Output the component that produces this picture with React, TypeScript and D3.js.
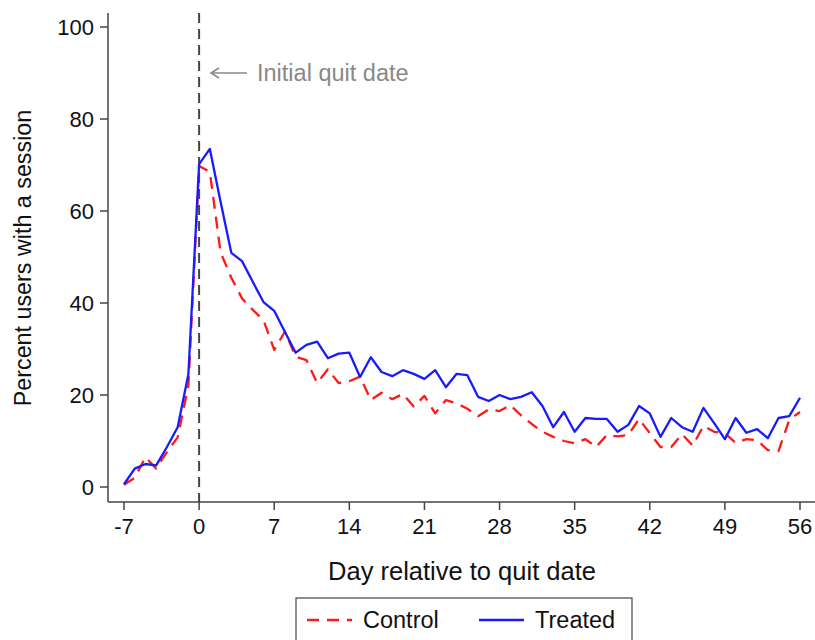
import React from "react";
import * as d3 from "d3";

const days: number[] = d3.range(-7, 57);

const control: number[] = [
  0.5, 2, 6.5, 4, 7.6, 10.8, 22,
  69.8, 68.5, 51, 45.5, 41, 38.5, 36.3, 29.8, 33.8, 28.3, 27.6, 22.6, 25.6, 22.6, 23,
  24, 18.9, 20.5, 19.1, 20.2, 17.5, 19.8, 16, 18.9, 18.2, 17, 15.4, 16.9, 16.5, 17.8,
  15.6, 13.7, 12, 10.9, 10, 9.5, 10.4, 8.7, 11.3, 11, 11.3, 14.8, 11.7, 8.7, 8.7,
  11.5, 9, 13.3, 12, 11.7, 9.6, 10.4, 10.2, 8, 7.8, 14.6, 16.3,
];

const treated: number[] = [
  0.6, 4, 5, 4.7, 8.7, 13, 24.5,
  70.2, 73.5, 62, 50.9, 49.1, 44.6, 40.2, 38.3, 33.7, 29.2, 30.9, 31.6, 28, 29, 29.2,
  23.9, 28.2, 25, 24.1, 25.4, 24.6, 23.5, 25.4, 21.7, 24.6, 24.3, 19.6, 18.7, 20, 19.1,
  19.6, 20.6, 17.6, 13, 16.3, 12, 15, 14.8, 14.8, 12, 13.5, 17.6, 16, 10.9, 15,
  13, 12, 17.2, 13.9, 10.4, 15, 11.8, 12.6, 10.6, 15, 15.4, 19.4,
];

const xTicks: number[] = [-7, 0, 7, 14, 21, 28, 35, 42, 49, 56];
const yTicks: number[] = [0, 20, 40, 60, 80, 100];
const seriesNames: string[] = ["Control", "Treated"];

const FONT = "'Liberation Sans', Arial, Helvetica, sans-serif";

export default function App() {
  const W = 815, H = 640;
  const x = d3.scaleLinear().domain([-7, 56]).range([124, 800]);
  const y = d3.scaleLinear().domain([0, 100]).range([487, 27]);
  const axisY = 502;
  const axisX = 108;

  const line = d3
    .line<number>()
    .x((_, i) => x(days[i]))
    .y((v) => y(v));

  const axisColor = "#444";

  return (
    <svg
      width={W}
      height={H}
      style={{ position: "absolute", left: 0, top: 0, background: "#fff" }}
      fontFamily={FONT}
    >
      <rect x={0} y={0} width={W} height={H} fill="#fff" />
      {/* Y axis */}
      <line x1={axisX} x2={axisX} y1={13} y2={axisY} stroke={axisColor} strokeWidth={1.5} />
      {yTicks.map((t) => (
        <g key={"y" + t}>
          <line x1={axisX - 8} x2={axisX} y1={y(t)} y2={y(t)} stroke={axisColor} strokeWidth={1.5} />
          <text x={axisX - 14} y={y(t)} dy="0.36em" textAnchor="end" fontSize={22} fill="#111">
            {t}
          </text>
        </g>
      ))}
      {/* X axis */}
      <line x1={axisX} x2={815} y1={axisY} y2={axisY} stroke={axisColor} strokeWidth={1.5} />
      {xTicks.map((t) => (
        <g key={"x" + t}>
          <line x1={x(t)} x2={x(t)} y1={axisY} y2={axisY + 8} stroke={axisColor} strokeWidth={1.5} />
          <text x={x(t)} y={534} textAnchor="middle" fontSize={22} fill="#111">
            {t}
          </text>
        </g>
      ))}
      {/* Titles */}
      <text x={462} y={580} textAnchor="middle" fontSize={25.5} fill="#111">
        Day relative to quit date
      </text>
      <text
        transform={`translate(31, 258) rotate(-90)`}
        textAnchor="middle"
        fontSize={23.3}
        fill="#111"
      >
        Percent users with a session
      </text>
      {/* Quit date line */}
      <line
        x1={x(0)}
        x2={x(0)}
        y1={13}
        y2={axisY}
        stroke="#444"
        strokeWidth={2}
        strokeDasharray="10,6"
      />
      {/* Annotation */}
      <line x1={247} x2={212} y1={73} y2={73} stroke="#888" strokeWidth={1.5} />
      <polyline points="219,68 211,73 219,78" fill="none" stroke="#888" strokeWidth={1.5} />
      <text x={257} y={81} fontSize={23.5} fill="#888">
        Initial quit date
      </text>
      {/* Series */}
      <path
        d={line(control) || ""}
        fill="none"
        stroke="#ff1a1a"
        strokeWidth={2.3}
        strokeDasharray="12,8"
        strokeLinejoin="round"
      />
      <path d={line(treated) || ""} fill="none" stroke="#1a1aff" strokeWidth={2.3} strokeLinejoin="round" />
      {/* Legend */}
      <rect x={296} y={598} width={336} height={50} fill="#fff" stroke="#444" strokeWidth={1.2} />
      <line x1={307} x2={352} y1={620} y2={620} stroke="#ff1a1a" strokeWidth={2.3} strokeDasharray="12,8" />
      <text x={363} y={628} fontSize={23.5} fill="#111">
        {seriesNames[0]}
      </text>
      <line x1={479} x2={524} y1={620} y2={620} stroke="#1a1aff" strokeWidth={2.3} />
      <text x={535} y={628} fontSize={23.5} fill="#111">
        {seriesNames[1]}
      </text>
    </svg>
  );
}
